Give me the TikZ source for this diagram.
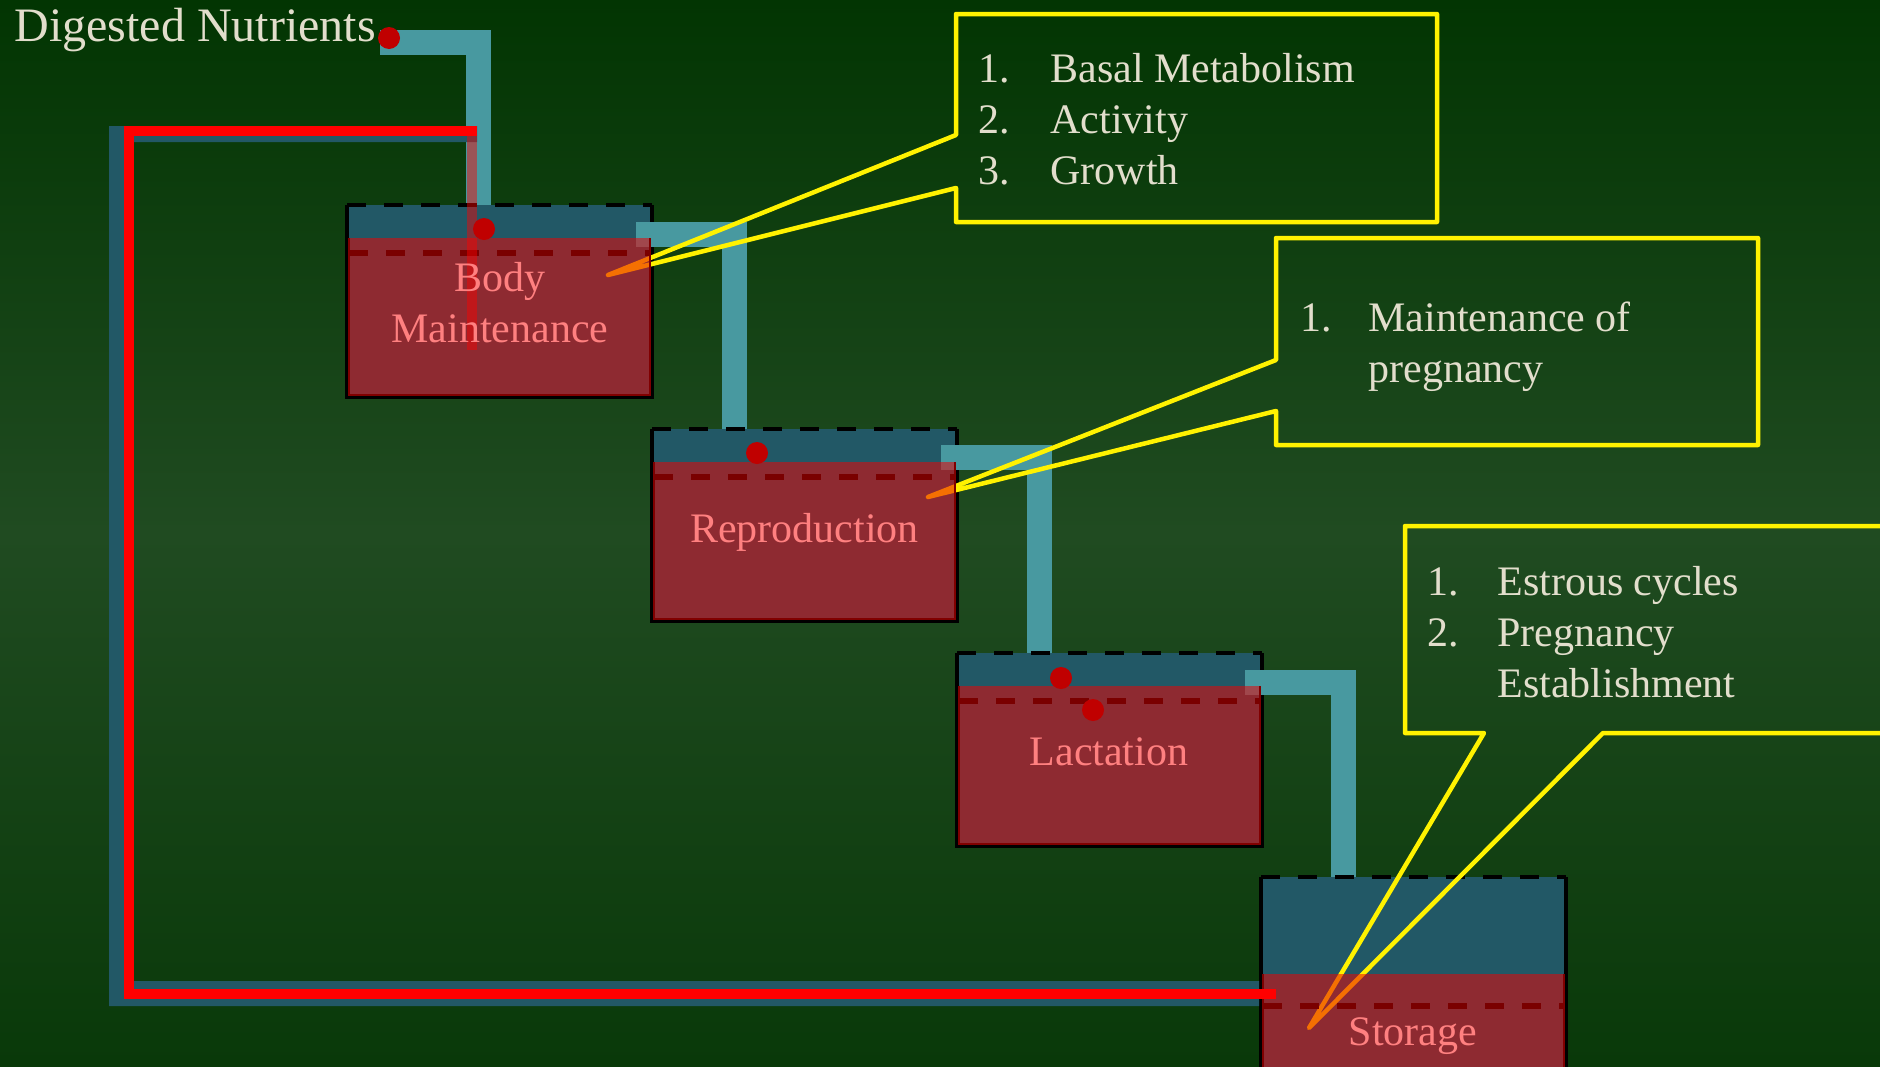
\documentclass[tikz,border=0pt]{standalone}
\usepackage{fontspec}
\setmainfont{Liberation Serif}
\definecolor{bgtop}{RGB}{2,53,2}
\definecolor{bgmid}{RGB}{32,75,33}
\definecolor{bgbot}{RGB}{9,57,9}
\definecolor{tankteal}{RGB}{34,88,102}
\definecolor{pipeteal}{RGB}{72,153,160}
\definecolor{redfill}{RGB}{235,3,5}
\definecolor{rededge}{RGB}{128,0,0}
\definecolor{dashred}{RGB}{122,0,0}
\definecolor{dotred}{RGB}{192,0,0}
\definecolor{cream}{RGB}{226,222,204}
\definecolor{labelpink}{RGB}{255,128,128}
\begin{document}
\begin{tikzpicture}[x=0.5pt,y=-0.5pt,
  pipe/.style={draw=pipeteal,line width=12.5pt},
  tankside/.style={draw=black,line width=2.2pt},
  tanktop/.style={draw=black,line width=2.4pt,dash pattern=on 9.5pt off 9pt},
  callout/.style={draw=yellow,line width=2.25pt,line join=round},
  redlayer/.style={fill=redfill,fill opacity=0.54},
  rededge/.style={draw=rededge,line width=1.2pt},
  reddash/.style={draw=dashred,line width=2.8pt,dash pattern=on 9.5pt off 9pt},
  dot/.style={circle,fill=dotred,inner sep=0pt,minimum size=11pt},
  boxlabel/.style={text=labelpink,font=\fontsize{21pt}{25.5pt}\selectfont,anchor=base,inner sep=0pt},
  item/.style={text=cream,font=\fontsize{21pt}{25.5pt}\selectfont,anchor=base west,inner sep=0pt},
]
\useasboundingbox (0,0) rectangle (1880,1066);
\clip (0,0) rectangle (1880,1066);
\shade[top color=bgtop,bottom color=bgbot,middle color=bgmid] (0,0) rectangle (1880,1066);

% tanks: fill and solid sides
\foreach \x/\y/\h in {347/205/192, 652/429/192, 957/653/193, 1261/877/250}{
  \fill[tankteal] (\x,\y) rectangle ({\x+305},{\y+\h});
  \draw[tankside] (\x,\y) -- (\x,{\y+\h}) -- ({\x+305},{\y+\h}) -- ({\x+305},\y);
}

% named pipe points
\coordinate (src) at (380,42);
\coordinate (bmIn) at (478.5,205);
\coordinate (bmOut) at (636,234);
\coordinate (repIn) at (734.5,429);
\coordinate (repOut) at (941,457.5);
\coordinate (lacIn) at (1039,653);
\coordinate (lacOut) at (1245,682);
\coordinate (stoIn) at (1343,877);

% light teal pipes
\draw[pipe] (src) -| (bmIn);
\draw[pipe] (bmOut) -| (repIn);
\draw[pipe] (repOut) -| (lacIn);
\draw[pipe] (lacOut) -| (stoIn);

% dark teal return loop
\fill[tankteal] (109,126) -- (477,126) -- (477,142) -- (126,142) -- (126,981)
  -- (1259,981) -- (1259,1006) -- (109,1006) -- cycle;

% dashed tank tops
\foreach \x/\y in {347/205, 652/429, 957/653, 1261/877}{
  \draw[tanktop] (\x,\y) -- ({\x+305},\y);
}

% callouts
\coordinate (tip1) at (608,275);
\coordinate (tip2) at (928,497);
\coordinate (tip3) at (1309,1028);
\draw[callout] (956,14) -- (1437,14) -- (1437,222) -- (956,222) -- (956,188)
  -- (tip1) -- (956,135) -- cycle;
\draw[callout] (1276,238) -- (1758,238) -- (1758,445) -- (1276,445) -- (1276,411)
  -- (tip2) -- (1276,360) -- cycle;
\draw[callout] (1405,526) -- (1910,526) -- (1910,733) -- (1603,733)
  -- (tip3) -- (1484,733) -- (1405,733) -- cycle;

% translucent red layers
\foreach \x/\y/\h/\b/\d in {347/205/192/33/48, 652/429/192/33/48, 957/653/193/33/48, 1261/877/250/97/129}{
  \fill[redlayer] ({\x+2},{\y+\b}) rectangle ({\x+303},{\y+\h-2});
  \draw[rededge] ({\x+2},{\y+\b}) -- ({\x+2},{\y+\h-2}) -- ({\x+303},{\y+\h-2}) -- ({\x+303},{\y+\b});
  \draw[reddash] ({\x+2},{\y+\d}) -- ({\x+303},{\y+\d});
}

% translucent red strip into Body Maintenance
\fill[red,fill opacity=0.45] (467,136) rectangle (477,350);

% red return line
\coordinate (retA) at (477,131);
\coordinate (retB) at (1276,994);
\draw[red,line width=5pt] (retA) -- (129,131) -- (129,994) -- (retB);

% dots
\node[dot] (d0) at (389,38) {};
\node[dot] (d1) at (484,229) {};
\node[dot] (d2) at (757,453) {};
\node[dot] (d3) at (1061,678) {};
\node[dot] (d4) at (1093,710) {};

% labels
\node[item,font=\fontsize{24pt}{28pt}\selectfont] (dn) at (14,41) {Digested Nutrients};
\node[boxlabel] (bm1) at (500,291) {Body};
\node[boxlabel] (bm2) at (500,342) {Maintenance};
\node[boxlabel] (rep) at (804.5,542) {Reproduction};
\node[boxlabel] (lac) at (1109,765) {Lactation};
\node[boxlabel] (sto) at (1413,1045) {Storage};

\node[item] (a1) at (978,82) {1.};
\node[item] (a1t) at (1050,82) {Basal Metabolism};
\node[item] (a2) at (978,133) {2.};
\node[item] (a2t) at (1050,133) {Activity};
\node[item] (a3) at (978,184) {3.};
\node[item] (a3t) at (1050,184) {Growth};

\node[item] (b1) at (1300,331) {1.};
\node[item] (b1t) at (1368,331) {Maintenance of};
\node[item] (b1u) at (1368,382) {pregnancy};

\node[item] (c1) at (1427,595) {1.};
\node[item] (c1t) at (1497,595) {Estrous cycles};
\node[item] (c2) at (1427,646) {2.};
\node[item] (c2t) at (1497,646) {Pregnancy};
\node[item] (c2u) at (1497,697) {Establishment};
\end{tikzpicture}
\end{document}
